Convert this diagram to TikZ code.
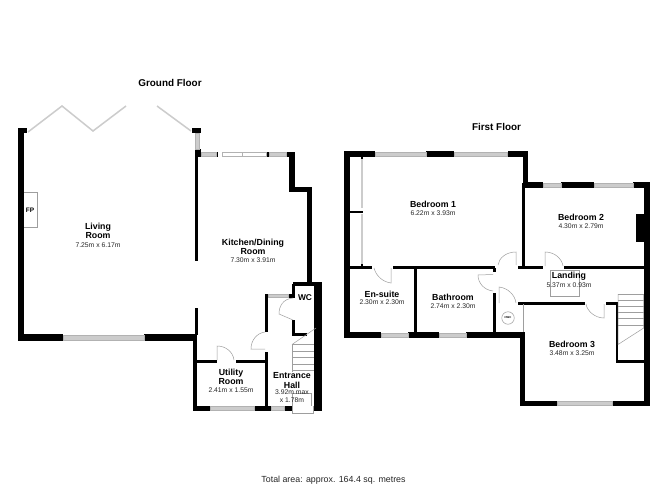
\documentclass[tikz,border=0pt]{standalone}
\usepackage{fontspec}
\setmainfont{Liberation Sans}
\definecolor{thinline}{gray}{0.62}
\definecolor{glass}{gray}{0.80}
\definecolor{frame}{gray}{0.70}
\newcommand{\wl}[4]{\fill[black] (#1,#2) rectangle (#3,#4);}
\newcommand{\win}[4]{\draw[frame,fill=glass,line width=0.5pt] (#1,#2) rectangle (#3,#4);}
\tikzset{
  x=1pt,y=-1pt,
  thin line/.style={draw=thinline,line width=0.5pt},
  fold/.style={draw=glass,line width=1.5pt},
  roomname/.style={inner sep=0pt,font=\fontsize{8.8}{9}\selectfont\bfseries},
  roomdim/.style={inner sep=0pt,font=\fontsize{6.8}{7}\selectfont,text=black!85},
  floorname/.style={inner sep=0pt,font=\fontsize{9.9}{11}\selectfont\bfseries},
}
\begin{document}
\begin{tikzpicture}
\useasboundingbox (0,0) rectangle (668,486);
\fill[white] (0,0) rectangle (668,486);

% ---------- Ground floor walls
\wl{18}{128}{24}{341}
\wl{18}{128}{27}{133}
\wl{18}{334}{63}{341}
\wl{144}{334}{197}{341}
\wl{193}{334}{197}{411}
\wl{195}{308}{198}{335}
\wl{195}{150}{198}{261}
\wl{192}{128}{201}{133}
\wl{195}{149}{201}{157}
\wl{193}{406}{210}{411}
\wl{254}{406}{271}{411}
\wl{284}{406}{292}{411}
\wl{313}{406}{322}{411}
\wl{314}{282}{322}{411}
\wl{293}{282}{322}{286}
\wl{307}{187}{312}{286}
\wl{289}{187}{312}{192}
\wl{289}{152}{295}{192}
\wl{286}{152}{295}{157}
\wl{216}{152}{218}{157}
\wl{267}{152}{269}{157}
\wl{292}{284}{295}{298}
\wl{288}{294}{295}{298}
\wl{292}{320}{295}{336}
\wl{292}{333}{307}{336}
\wl{265}{294}{268}{332}
\wl{265}{352}{268}{411}
\wl{197}{360}{217}{363}
\wl{236}{360}{265}{363}

% Ground floor windows
\win{63}{335.5}{144}{340}
\win{195.5}{133}{199.5}{149}
\win{201}{152.5}{216}{156.5}
\win{269}{152.5}{286}{156.5}
\draw[frame,line width=0.5pt,fill=white] (222,152.5) rectangle (266,156.5);
\draw[frame,line width=0.5pt] (242,152.5) -- (242,156.5);
\win{210}{406.5}{254}{410.5}
\win{271}{406.5}{284}{410.5}
\win{268}{294.5}{288}{297.5}

% Folding doors
\draw[fold] (28,132) -- (62,106) -- (93,131) -- (126,106);
\draw[fold] (157,106) -- (191,131);

% Fireplace
\draw[thin line] (24,192) -- (37.5,192) -- (37.5,227) -- (24,227);

% Ground floor doors
\draw[thin line] (293,298) .. controls (283,299) and (279,306) .. (279,314) -- (293,320);
\draw[thin line] (265,332) .. controls (257,333) and (251,340) .. (251,349) -- (265,349);
\draw[thin line] (234,360) .. controls (233,352) and (226,346) .. (217,346) -- (217,360);

% Ground floor stairs
\draw[thin line] (292,344.5) -- (316,328);
\draw[thin line] (292,344.5) -- (314,344.5);
\draw[thin line] (292,351) -- (314,351);
\draw[thin line] (292,357.5) -- (314,357.5);
\draw[thin line] (292,364) -- (314,364);
\draw[thin line] (292,370.5) -- (314,370.5);
\draw[thin line] (292,344.5) -- (292,372);
\draw[thin line] (292,393) -- (311,393) -- (311,406);
\draw[thin line] (292,393) -- (292,413) -- (313,413) -- (313,406);

% ---------- First floor walls
\wl{344}{151}{350}{338}
\wl{344}{151}{375}{157}
\wl{426}{151}{454}{157}
\wl{507.5}{151}{528}{157}
\wl{523}{151}{528}{188}
\wl{522}{183}{525}{268}
\wl{523}{182}{543}{188}
\wl{561}{182}{594}{188}
\wl{633}{182}{650}{188}
\wl{644}{182}{650}{406}
\wl{636}{214}{644}{242}
\wl{518}{265.5}{543}{268.5}
\wl{564}{265.5}{644}{268.5}
\wl{350}{265.5}{372}{268.5}
\wl{393}{265.5}{495}{268.5}
\wl{414}{268}{417}{333}
\wl{344}{332}{381}{338}
\wl{408}{332}{439}{338}
\wl{466}{332}{525}{338}
\wl{520}{332}{525}{406}
\wl{520}{400.7}{557}{406}
\wl{612}{400.7}{650}{406}
\wl{493}{268}{495.5}{272}
\wl{493}{293}{496}{333}
\wl{518}{301.5}{585}{304.5}
\wl{606}{301.5}{618}{304.5}
\wl{615.5}{302}{618}{362.5}
\wl{616}{360}{644}{362.5}
\wl{350}{210.5}{363}{213}
\wl{360.5}{157}{363}{159}
\wl{360.5}{264}{363}{266}

% First floor windows
\win{375}{152}{426}{156}
\win{454}{152}{507.5}{156}
\win{543}{183}{561}{187}
\win{594}{183}{633}{187}
\win{381}{333}{408}{337}
\win{439}{333}{466}{337}
\win{557}{401.5}{612}{405.5}

% Wardrobes
\fill[glass] (361,159) rectangle (363,208);
\fill[glass] (361,214) rectangle (363,264);

% First floor doors
\draw[thin line] (374,268) .. controls (376,276) and (383,282) .. (391,283) -- (391,268);
\draw[thin line] (498,265) .. controls (499,258) and (506,252) .. (516,252) -- (516,265);
\draw[thin line] (493,291) .. controls (484,290) and (478,283) .. (478,275) -- (493,274.5);
\draw[thin line] (516,303) .. controls (515,295) and (508,288) .. (499,287) -- (499,303);
\draw[thin line] (563,266) .. controls (562,259) and (555,252) .. (545,252) -- (545,266);
\draw[thin line] (586,304) .. controls (587,311) and (595,318) .. (604,318) -- (604,304);
\draw[thin line] (523.5,304) -- (523.5,332);

% Hot water cylinder
\node[circle,draw=thinline,line width=0.5pt,minimum size=12.5pt,inner sep=0pt,font=\fontsize{2.8}{3}\selectfont\bfseries] (hwc) at (508,318) {HWC};

% Landing hatch
\draw[thin line] (550.7,270) rectangle (579,296.7);

% First floor stairs
\draw[thin line] (618,294) -- (643.7,294);
\draw[thin line] (618,300) -- (643.7,300);
\draw[thin line] (618,306.3) -- (643.7,306.3);
\draw[thin line] (618,312.3) -- (643.7,312.3);
\draw[thin line] (618,318.5) -- (643.7,318.5);
\draw[thin line] (618,325) -- (643.7,325);
\draw[thin line] (618,294) -- (618,344.5) -- (643.7,328) -- (643.7,294);

% ---------- Labels
\node[floorname] (gf) at (170,83) {Ground Floor};
\node[floorname] (ff) at (496.5,127) {First Floor};

\node[roomname] (l1) at (98,227) {Living};
\node[roomname] (l2) at (98,236) {Room};
\node[roomdim] (l3) at (98,245) {7.25m x 6.17m};
\node[inner sep=0pt,font=\fontsize{6.5}{7}\selectfont\bfseries] (fp) at (30,210) {FP};

\node[roomname] (k1) at (253,243) {Kitchen/Dining};
\node[roomname] (k2) at (253,252) {Room};
\node[roomdim] (k3) at (253,260) {7.30m x 3.91m};

\node[roomname] (u1) at (231,373) {Utility};
\node[roomname] (u2) at (231,382) {Room};
\node[roomdim] (u3) at (231,390) {2.41m x 1.55m};

\node[roomname] (e1) at (292,376) {Entrance};
\node[roomname] (e2) at (292,385) {Hall};
\node[roomdim] (e3) at (292,392.5) {3.92m max};
\node[roomdim] (e4) at (292,400) {x 1.78m};
\node[roomname,font=\fontsize{8.4}{9}\selectfont\bfseries] (wc) at (305,298) {WC};

\node[roomname] (b1a) at (433,204) {Bedroom 1};
\node[roomdim] (b1b) at (433,213) {6.22m x 3.93m};
\node[roomname] (es1) at (382,294) {En-suite};
\node[roomdim] (es2) at (382,302) {2.30m x 2.30m};
\node[roomname] (ba1) at (453,297) {Bathroom};
\node[roomdim] (ba2) at (453,306) {2.74m x 2.30m};
\node[roomname] (la1) at (569,276) {Landing};
\node[roomdim] (la2) at (569,285) {5.37m x 0.93m};
\node[roomname] (b3a) at (572,344) {Bedroom 3};
\node[roomdim] (b3b) at (572,353) {3.48m x 3.25m};
\node[roomname] (b2a) at (581,217) {Bedroom 2};
\node[roomdim] (b2b) at (581,226) {4.30m x 2.79m};

\node[inner sep=0pt,font=\fontsize{8.85}{10}\selectfont,text=black!85] (tot) at (333.5,480) {Total area: approx. 164.4 sq. metres};
\end{tikzpicture}
\end{document}
